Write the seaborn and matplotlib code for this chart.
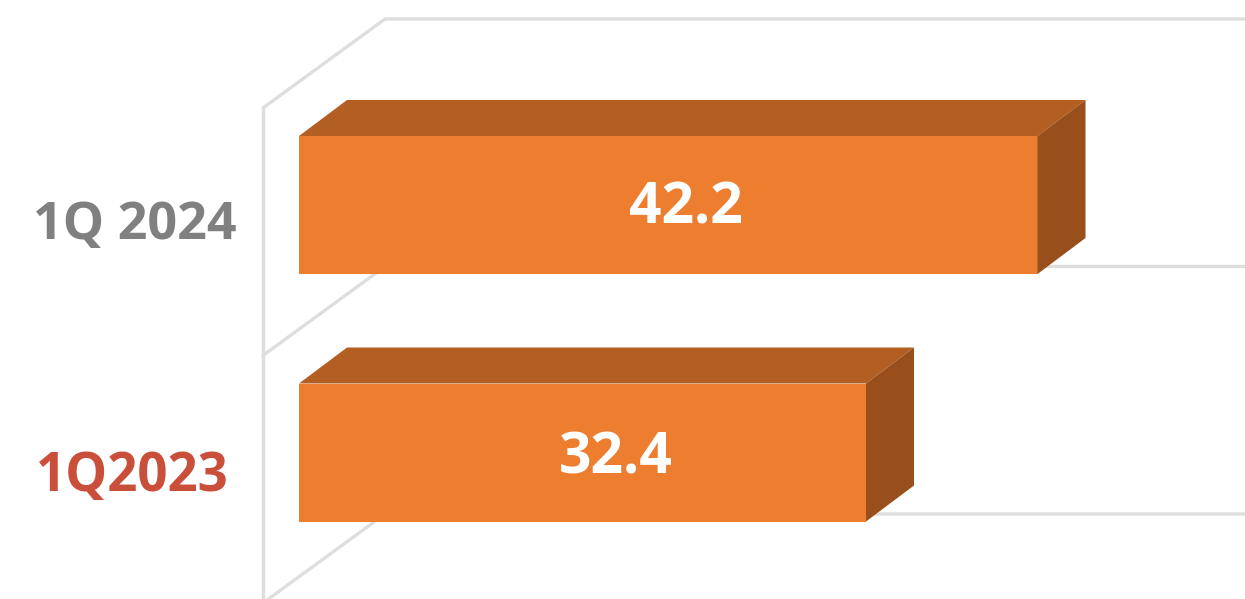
import matplotlib
matplotlib.use("Agg")
import matplotlib.pyplot as plt
from matplotlib.patches import Polygon
import pandas as pd
import seaborn as sns

periods = ["1Q 2024", "1Q2023"]
values = [42.2, 32.4]
label_colors = ["#808080", "#c94f3a"]

FRONT = "#ed7d2f"
TOP = "#b35e22"
SIDE = "#994f1c"
GRID = "#dedede"

W, H = 1245, 599
PX_PER_UNIT = 17.5
PX_PER_CAT = 247.5
X0_PX, Y0_PX = 299, 205
DX = 48 / PX_PER_UNIT
DY = -36 / PX_PER_CAT

sns.set_theme(style="white")
plt.rcParams["font.family"] = ["Open Sans", "DejaVu Sans"]

fig = plt.figure(figsize=(W / 100, H / 100), dpi=100)
ax = fig.add_axes([0, 0, 1, 1])
df = pd.DataFrame({"period": periods, "value": values})
sns.barplot(data=df, x="value", y="period", orient="h", color=FRONT, saturation=1,
            width=138 / PX_PER_CAT, linewidth=0, ax=ax, zorder=3)
ax.set_xlim(-X0_PX / PX_PER_UNIT, (W - X0_PX) / PX_PER_UNIT)
ax.set_ylim((H - Y0_PX) / PX_PER_CAT, -Y0_PX / PX_PER_CAT)
ax.axis("off")

# Walls of the 3D frame
wall_x = -36 / PX_PER_UNIT
back_x = wall_x + 122 / PX_PER_UNIT
edges = [-0.392, 0.608, 1.608]
back_dy = -89 / PX_PER_CAT
for e in edges:
    ax.plot([wall_x, back_x, W / PX_PER_UNIT], [e, e + back_dy, e + back_dy],
            color=GRID, lw=2.4, zorder=1, solid_joinstyle="miter")
ax.plot([wall_x, wall_x], [edges[0], edges[-1]], color=GRID, lw=2.4, zorder=1)

# 3D faces and labels built from each bar
value_dx = [18 / PX_PER_UNIT, 33 / PX_PER_UNIT]
value_dy = [4 / PX_PER_CAT, 6 / PX_PER_CAT]
cat_dy = [21 / PX_PER_CAT, 25 / PX_PER_CAT]
cat_x = [-164 / PX_PER_UNIT, -167 / PX_PER_UNIT]
cat_sizes = [37.5, 38]
for i, (patch, value, text, lc) in enumerate(zip(ax.patches, values, periods, label_colors)):
    y0, h = patch.get_y(), patch.get_height()
    y1 = y0 + h
    ax.add_patch(Polygon([(0, y0), (value, y0), (value + DX, y0 + DY), (DX, y0 + DY)],
                         closed=True, fc=TOP, ec="none", zorder=3))
    ax.add_patch(Polygon([(value, y0), (value + DX, y0 + DY), (value + DX, y1 + DY), (value, y1)],
                         closed=True, fc=SIDE, ec="none", zorder=3))
    yc = y0 + h / 2
    ax.text(value * 0.5 + value_dx[i], yc + value_dy[i], f"{value}", color="white",
            fontsize=41, fontweight="bold", ha="center", va="center", zorder=5)
    ax.text(cat_x[i], yc + cat_dy[i], text, color=lc, fontsize=cat_sizes[i], fontweight="bold",
            ha="center", va="center", zorder=5)

fig.savefig("out.png", dpi=100, facecolor="white")
